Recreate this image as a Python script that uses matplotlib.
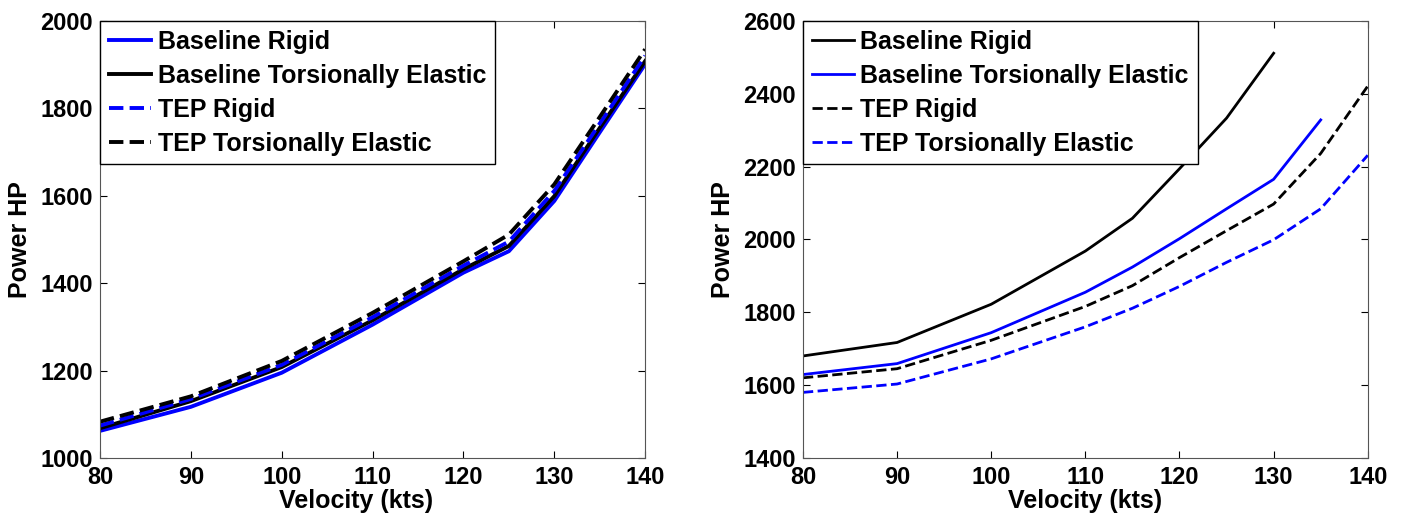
import matplotlib.pyplot as plt

plt.rcParams['font.family'] = ['Liberation Sans', 'DejaVu Sans']
plt.rcParams['font.weight'] = 'bold'

# left panel data
vel_left = [80, 90, 100, 110, 120, 125, 130, 135, 140]
left_base_rigid = [1062, 1117, 1195, 1305, 1424, 1473, 1588, 1745, 1901]
left_base_elastic = [1068, 1130, 1208, 1315, 1432, 1485, 1599, 1755, 1908]
left_tep_rigid = [1074, 1135, 1213, 1322, 1440, 1495, 1611, 1765, 1920]
left_tep_elastic = [1083, 1141, 1222, 1332, 1450, 1511, 1626, 1780, 1935]

# right panel data
vel_right = [80, 90, 100, 110, 115, 120, 125, 130, 135, 140]
right_base_rigid = [1680, 1717, 1822, 1968, 2058, 2194, 2333, 2511, None, None]
right_base_elastic = [1629, 1659, 1744, 1855, 1924, 2002, 2084, 2165, 2328, None]
right_tep_rigid = [1620, 1645, 1723, 1816, 1873, 1950, 2024, 2097, 2236, 2421]
right_tep_elastic = [1580, 1603, 1672, 1760, 1811, 1871, 1937, 1999, 2084, 2231]

labels = ['Baseline Rigid', 'Baseline Torsionally Elastic',
          'TEP Rigid', 'TEP Torsionally Elastic']


def clean(x, y):
    pts = [(a, b) for a, b in zip(x, y) if b is not None]
    return [p[0] for p in pts], [p[1] for p in pts]


def style_axes(ax, ylim, yticks):
    ax.set_xlim(80, 140)
    ax.set_ylim(*ylim)
    ax.set_xticks(range(80, 141, 10))
    ax.set_yticks(yticks)
    ax.tick_params(direction='in', top=True, right=True, labelsize=17, length=5)
    ax.tick_params(axis='x', pad=6)
    ax.tick_params(axis='y', pad=5)
    for lab in ax.get_xticklabels() + ax.get_yticklabels():
        lab.set_fontweight('bold')
    ax.set_xlabel('Velocity (kts)', fontsize=18, fontweight='bold', labelpad=0)
    ax.set_ylabel('Power HP', fontsize=18, fontweight='bold', labelpad=6)
    for s in ax.spines.values():
        s.set_color('#555555')


def add_legend(ax):
    leg = ax.legend(loc='upper left', fontsize=18, fancybox=False, borderaxespad=0,
                    handlelength=1.7, handletextpad=0.25, borderpad=0.35,
                    labelspacing=0.4, framealpha=1)
    leg.get_frame().set_edgecolor('black')
    leg.get_frame().set_linewidth(1)
    for t in leg.get_texts():
        t.set_fontweight('bold')


fig = plt.figure(figsize=(14.05, 5.21), dpi=100)
ax1 = fig.add_axes([0.0712, 0.121, 0.388, 0.839])
ax2 = fig.add_axes([0.5715, 0.121, 0.402, 0.839])

lw = 2.8
ax1.plot(vel_left, left_base_rigid, color='#0000ff', lw=lw, label=labels[0])
ax1.plot(vel_left, left_base_elastic, color='black', lw=lw, label=labels[1])
ax1.plot(vel_left, left_tep_rigid, color='#0000ff', ls='--', lw=lw, label=labels[2])
ax1.plot(vel_left, left_tep_elastic, color='black', ls='--', lw=lw, label=labels[3])
style_axes(ax1, (1000, 2000), range(1000, 2001, 200))
ax1.xaxis.label.set_x(0.47)
add_legend(ax1)

lw2 = 2
ax2.plot(*clean(vel_right, right_base_rigid), color='black', lw=lw2, label=labels[0])
ax2.plot(*clean(vel_right, right_base_elastic), color='#0000ff', lw=lw2, label=labels[1])
ax2.plot(*clean(vel_right, right_tep_rigid), color='black', ls='--', lw=lw2, label=labels[2])
ax2.plot(*clean(vel_right, right_tep_elastic), color='#0000ff', ls='--', lw=lw2, label=labels[3])
style_axes(ax2, (1400, 2600), range(1400, 2601, 200))
add_legend(ax2)

fig.savefig('out.png', dpi=100)
